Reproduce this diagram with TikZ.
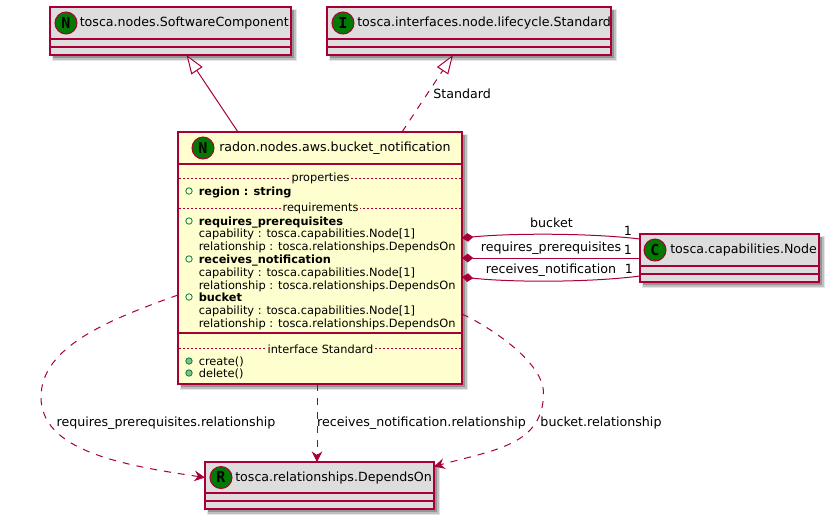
\documentclass[tikz,border=0pt]{standalone}
\usepackage{fontspec}
\setmainfont{DejaVu Sans}
\setmonofont{DejaVu Sans Mono}
\usetikzlibrary{arrows.meta}
\definecolor{umlline}{HTML}{A80036}
\definecolor{umlgray}{HTML}{DDDDDD}
\definecolor{umlyellow}{HTML}{FEFECE}
\definecolor{umlgreen}{HTML}{007A00}
\definecolor{umlmark}{HTML}{038048}
\definecolor{umlmarkfill}{HTML}{84BE84}
\def\px{0.75pt}
\tikzset{
  boxline/.style={draw=umlline,line width=1.125pt},
  classbox/.style={boxline,anchor=north west,inner sep=0pt,outer sep=0pt,fill=umlgray,
    preaction={draw=black!10,line width=3pt,fill=black!10,transform canvas={xshift=3pt,yshift=-3pt}},
    preaction={draw=black!25,line width=1.5pt,fill=black!25,transform canvas={xshift=3pt,yshift=-3pt}},
    preaction={draw=none,fill=black!42,transform canvas={xshift=2.6pt,yshift=-2.6pt}}},
  classicon/.style={circle,draw=umlline,line width=.75pt,fill=umlgreen,minimum size=16.5pt,inner sep=0pt,
    font=\fontsize{11.25pt}{12pt}\ttfamily\bfseries},
  classname/.style={anchor=mid west,inner sep=0pt,font=\fontsize{9.47pt}{12pt}\selectfont},
  memberline/.style={anchor=mid west,inner sep=0pt,yshift=-.5pt,font=\fontsize{8.55pt}{10pt}\selectfont},
  boldline/.style={memberline,font=\fontsize{8.5pt}{10pt}\bfseries},
  septitle/.style={fill=umlyellow,inner xsep=1pt,inner ysep=0pt,yshift=-.6pt,font=\fontsize{8.5pt}{10pt}\selectfont},
  openmark/.style={circle,draw=umlmark,line width=.6pt,fill=none,minimum size=4.8pt,inner sep=0pt},
  fullmark/.style={openmark,fill=umlmarkfill},
  linklabel/.style={inner sep=0pt,font=\fontsize{9.49pt}{12pt}\selectfont},
  link/.style={draw=umlline,line width=.75pt},
  genlink/.style={link,-{Triangle[open,fill=white,length=14.2pt,width=10pt]}},
  dashlink/.style={link,dash pattern=on 5.25pt off 5.25pt},
  deplink/.style={dashlink,-{Stealth[length=8pt,width=8pt,inset=2.8pt]}},
  partlink/.style={link,{Diamond[length=8.5pt,width=6.5pt]}-}
}
\begin{document}
\begin{tikzpicture}[x=\px,y=-\px]
\useasboundingbox (0,0) rectangle (832,522);
% parents
\node[classbox,minimum width=241*\px,minimum height=48*\px] (soft) at (50,7) {};
\draw[boxline] (50,39) -- (291,39) (50,47) -- (291,47);
\node[classicon] (softicon) at (66,23) {N};
\node[classname] (softname) at (79.5,23) {tosca.nodes.SoftwareComponent};
\node[classbox,minimum width=284*\px,minimum height=48*\px] (std) at (327,7) {};
\draw[boxline] (327,39) -- (611,39) (327,47) -- (611,47);
\node[classicon] (stdicon) at (343,23) {I};
\node[classname] (stdname) at (357,23) {tosca.interfaces.node.lifecycle.Standard};
% main class
\node[classbox,fill=umlyellow,minimum width=284*\px,minimum height=252*\px] (main) at (178,132) {};
\draw[boxline] (178,164) -- (462,164) (178,333) -- (462,333);
\node[classicon] (mainicon) at (203,148) {N};
\node[classname] (mainname) at (219,148) {radon.nodes.aws.bucket\_notification};
\foreach \ypos/\secname/\sectext in {178/secprops/properties,208/secreqs/requirements,348/seciface/interface Standard}{
  \draw[umlline,line width=.4pt,dash pattern=on 1.5pt off 1.5pt] (179,\ypos) -- (461,\ypos);
  \node[septitle] (\secname) at (320.5,\ypos) {\sectext};
}
\foreach \ypos/\linename/\linetext in {191/lregion/region : string,221/lreqs/requires\_prerequisites,259/lrecv/receives\_notification,297/lbucket/bucket}{
  \node[openmark] (\linename mark) at (189,\ypos) {};
  \node[boldline] (\linename) at (198.5,\ypos) {\linetext};
}
\foreach \ypos/\linename in {233.5/capa,272/capb,310/capc}
  \node[memberline] (\linename) at (198.5,\ypos) {capability : tosca.capabilities.Node[1]};
\foreach \ypos/\linename in {246/rela,285/relb,323/relc}
  \node[memberline] (\linename) at (198.5,\ypos) {relationship : tosca.relationships.DependsOn};
\foreach \ypos/\linename/\linetext in {361/lcreate/create(),373/ldelete/delete()}{
  \node[fullmark] (\linename mark) at (189,\ypos) {};
  \node[memberline] (\linename) at (198.5,\ypos) {\linetext};
}
% capability
\node[classbox,minimum width=179*\px,minimum height=48*\px] (cap) at (640,234) {};
\draw[boxline] (640,266) -- (819,266) (640,274) -- (819,274);
\node[classicon] (capicon) at (655,250) {C};
\node[classname] (capname) at (670,250) {tosca.capabilities.Node};
% relationship
\node[classbox,minimum width=229*\px,minimum height=47*\px] (dep) at (205,462) {};
\draw[boxline] (205,493) -- (434,493) (205,501) -- (434,501);
\node[classicon] (depicon) at (221,477.5) {R};
\node[classname] (depname) at (235,477.5) {tosca.relationships.DependsOn};
% links
\draw[genlink] ([xshift=-82*\px]main.north) -- ([xshift=16*\px]soft.south);
\draw[genlink,dash pattern=on 5.25pt off 5.25pt] ([xshift=82*\px]main.north) -- ([xshift=-16*\px]std.south);
\node[linklabel,anchor=mid west] (stdlabel) at (433,94.5) {Standard};
\draw[partlink] ([yshift=20*\px]main.east) .. controls +(50,-5) and +(-50,-6) .. ([yshift=19*\px]cap.west);
\draw[partlink] (main.east) -- (cap.west |- main.east);
\draw[partlink] ([yshift=-19*\px]main.east) .. controls +(50,5.5) and +(-50,6.5) .. ([yshift=-18*\px]cap.west);
\node[linklabel] (bucketlabel) at (551.5,223) {bucket};
\node[linklabel] (reqlabel) at (551,248) {requires\_prerequisites};
\node[linklabel] (recvlabel) at (551,270.5) {receives\_notification};
\node[linklabel] (onea) at (628,230.5) {1};
\node[linklabel] (oneb) at (628,249.5) {1};
\node[linklabel] (onec) at (629,268.8) {1};
\draw[deplink] ([yshift=-37*\px]main.west) .. controls +(-70,25) and +(0,-50) .. (41,397) .. controls +(0,53) and +(-85,-12.5) .. ([yshift=8*\px]dep.west);
\draw[deplink] ([xshift=-3*\px]main.south) -- ([xshift=-2.5*\px]dep.north);
\draw[deplink] ([yshift=-56*\px]main.east) .. controls +(28,13) and +(0,-31) .. (543.5,393) .. controls +(0,52) and +(60,-16.5) .. ([yshift=19*\px]dep.east);
\node[linklabel] (reqdep) at (166,423.5) {requires\_prerequisites.relationship};
\node[linklabel] (recvdep) at (421.5,423.5) {receives\_notification.relationship};
\node[linklabel] (bucketdep) at (601,423.5) {bucket.relationship};
\end{tikzpicture}
\end{document}
